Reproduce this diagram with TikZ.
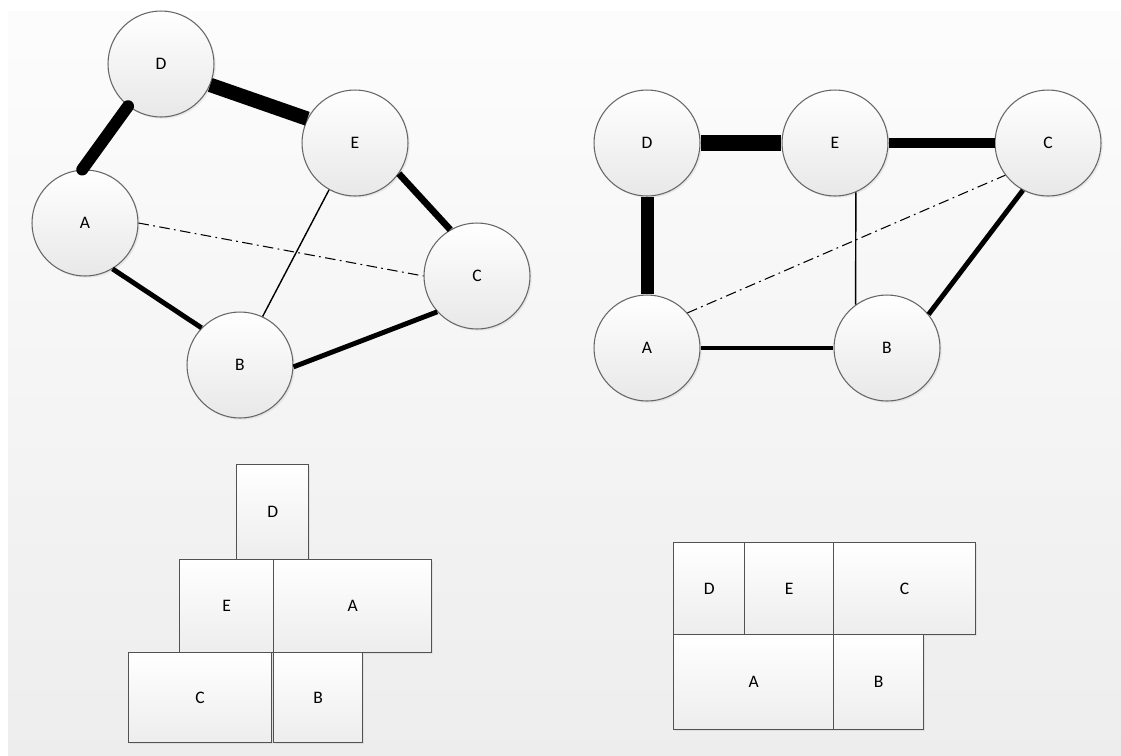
\documentclass[tikz,border=0pt]{standalone}
\usepackage{fontspec}
\setmainfont{Carlito}
\usetikzlibrary{shadows}
\colorlet{rimcol}{black!60}
\colorlet{boxcol}{black!68}
\colorlet{paneltop}{white!99!black}
\colorlet{panelbot}{black!7}
\tikzstyle{softshadow}=[drop shadow={shadow xshift=0.035cm,shadow yshift=-0.035cm,opacity=0.13}]
\tikzstyle{vertex}=[circle,draw=rimcol,line width=0.6pt,minimum size=2.12cm,inner sep=0pt,
  top color=white,bottom color=black!9,softshadow,font=\fontsize{10}{12}\selectfont]
\tikzstyle{tile}=[rectangle,draw=boxcol,line width=0.75pt,inner sep=0pt,anchor=north west,
  top color=white,bottom color=black!7,softshadow,font=\fontsize{10}{12}\selectfont]
% edge weights, heaviest first
\tikzstyle{wtA}=[black,line width=8.2pt]
\tikzstyle{wtB}=[black,line width=6.8pt]
\tikzstyle{wtC}=[black,line width=5.8pt]
\tikzstyle{wtD}=[black,line width=3.8pt]
\tikzstyle{wtE}=[black,line width=2.8pt]
\tikzstyle{wtF}=[black,line width=0.8pt]
\tikzstyle{wtdd}=[black,line width=0.6pt,dash pattern=on 6pt off 2.5pt on 1pt off 2.5pt]

\begin{document}
\begin{tikzpicture}[x=0.02cm,y=-0.02cm]
  % page and panel
  \useasboundingbox (0,0) rectangle (1121,755);
  \fill[white] (0,0) rectangle (1121,755);
  \shade[top color=paneltop,bottom color=panelbot] (8,11) rectangle (1121,755);

  % first graph
  \node[vertex] (D1) at (161,64)  {D};
  \node[vertex] (E1) at (355,143) {E};
  \node[vertex] (A1) at (85,223)  {A};
  \node[vertex] (C1) at (477,276) {C};
  \node[vertex] (B1) at (240,365) {B};

  \draw[wtA] (D1.-23) -- (E1.153);
  \draw[wtB,line cap=round] (D1.232) -- (A1.93);
  \draw[wtD] (E1.-35) -- (C1.120);
  \draw[wtE] (A1.-59) -- (B1.136);
  \draw[wtE] (B1.-2) -- (C1.222);
  \draw[wtF] (E1.241) -- (B1.65);
  \draw[wtdd] (A1.0) -- (C1.180);

  % second graph
  \node[vertex] (D2) at (647,143)  {D};
  \node[vertex] (E2) at (835,143)  {E};
  \node[vertex] (C2) at (1048,143) {C};
  \node[vertex] (A2) at (647,348)  {A};
  \node[vertex] (B2) at (887,348)  {B};

  \draw[wtA,line width=9pt] (D2.0) -- (E2.180);
  \draw[wtB,line width=7.4pt] (D2.-90) -- (A2.90);
  \draw[wtC] (E2.0) -- (C2.180);
  \draw[wtE] (C2.242) -- (B2.39);
  \draw[wtE] (A2.0) -- (B2.180);
  \draw[wtF] (E2.-67) -- (B2.126);
  \draw[wtdd] (A2.41) -- (C2.217);

  % first packing
  \node[tile,minimum width=1.44cm,minimum height=1.90cm] (pD1) at (236,464) {D};
  \node[tile,minimum width=1.88cm,minimum height=1.86cm] (pE1) at (179,559) {E};
  \node[tile,minimum width=3.16cm,minimum height=1.86cm] (pA1) at (273,559) {A};
  \node[tile,minimum width=2.86cm,minimum height=1.80cm] (pC1) at (128,652) {C};
  \node[tile,minimum width=1.78cm,minimum height=1.80cm] (pB1) at (273,652) {B};

  % second packing
  \node[tile,minimum width=1.42cm,minimum height=1.84cm] (pD2) at (673,542) {D};
  \node[tile,minimum width=1.78cm,minimum height=1.84cm] (pE2) at (744,542) {E};
  \node[tile,minimum width=2.84cm,minimum height=1.84cm] (pC2) at (833,542) {C};
  \node[tile,minimum width=3.20cm,minimum height=1.90cm] (pA2) at (673,634) {A};
  \node[tile,minimum width=1.80cm,minimum height=1.90cm] (pB2) at (833,634) {B};
\end{tikzpicture}
\end{document}
